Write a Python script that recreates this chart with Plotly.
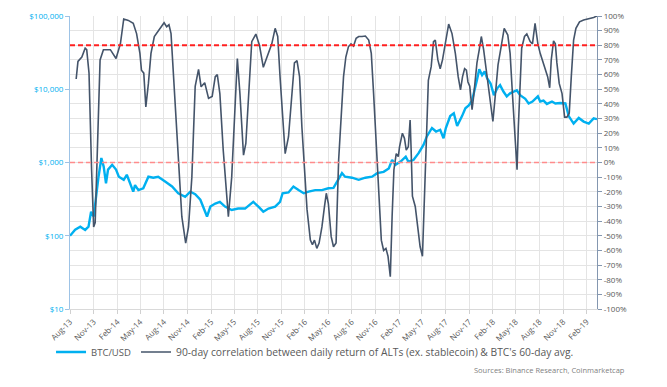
import plotly.graph_objects as go

# ---------------- data ----------------
btc_dates = ["2013-08-01","2013-08-21","2013-09-10","2013-09-29","2013-10-12","2013-10-22","2013-11-01","2013-11-10","2013-11-20","2013-12-01",
             "2013-12-10","2013-12-19","2013-12-27","2014-01-12","2014-01-27","2014-02-07","2014-02-26","2014-03-10","2014-03-22","2014-04-04",
             "2014-04-11","2014-04-24","2014-05-13","2014-06-02","2014-06-21","2014-07-10","2014-08-06","2014-09-02","2014-09-26","2014-10-23",
             "2014-11-12","2014-12-01","2014-12-21","2015-01-16","2015-01-29","2015-02-17","2015-03-07","2015-03-27","2015-04-22","2015-05-17",
             "2015-06-13","2015-07-15","2015-08-04","2015-08-23","2015-09-12","2015-10-08","2015-10-27","2015-11-06","2015-11-29","2015-12-18",
             "2016-01-07","2016-01-27","2016-02-15","2016-03-12","2016-04-07","2016-05-02","2016-05-22","2016-06-10","2016-06-24","2016-07-06",
             "2016-08-02","2016-08-28","2016-09-23","2016-10-19","2016-11-08","2016-12-03","2016-12-23","2017-01-05","2017-01-18","2017-02-07",
             "2017-02-27","2017-03-09","2017-03-29","2017-04-18","2017-05-07","2017-05-20","2017-06-09","2017-06-25","2017-07-11","2017-07-24",
             "2017-08-02","2017-08-19","2017-09-02","2017-09-15","2017-09-28","2017-10-04","2017-10-17","2017-10-30","2017-11-12","2017-11-23",
             "2017-12-01","2017-12-10","2017-12-21","2017-12-31","2018-01-10","2018-01-23","2018-02-05","2018-02-18","2018-03-01","2018-03-14",
             "2018-03-27","2018-04-09","2018-04-22","2018-05-05","2018-05-18","2018-06-07","2018-06-20","2018-07-05","2018-07-26","2018-08-04",
             "2018-08-17","2018-08-30","2018-09-19","2018-10-02","2018-10-21","2018-11-10","2018-11-23","2018-12-12","2019-01-01","2019-01-20",
             "2019-02-09","2019-02-28","2019-03-13"]
btc_usd = [100,121,133,120,133,213,183,340,640,1150,
           880,520,800,930,800,640,580,680,520,400,
           490,420,445,640,620,640,550,470,380,340,
           400,370,310,183,250,275,290,250,225,235,
           235,290,250,213,235,250,290,380,390,470,
           420,380,400,420,420,445,450,580,715,640,
           620,580,620,640,715,745,830,1080,930,1030,
           1200,1030,1080,1340,1740,2270,2960,2650,2800,2140,
           2960,4300,4700,3150,4060,4300,5500,6000,7000,9700,
           13400,18800,15600,17500,14000,12000,8300,10300,11400,9300,
           8000,8800,9300,9700,8300,7400,6400,6800,8000,6800,
           7000,6300,6800,6400,6500,6400,4300,3400,4060,3620,
           3400,4000,3900]

corr_dates = ["2013-08-25","2013-09-01","2013-09-16","2013-09-29","2013-10-05","2013-10-14","2013-10-24","2013-11-01","2013-11-07","2013-11-16",
              "2013-11-26","2013-12-09","2014-01-05","2014-01-27","2014-02-13","2014-02-26","2014-03-16","2014-04-04","2014-04-17","2014-04-30",
              "2014-05-06","2014-05-15","2014-05-23","2014-06-02","2014-06-12","2014-06-25","2014-07-16","2014-08-02","2014-08-12","2014-08-21",
              "2014-08-29","2014-09-14","2014-09-26","2014-10-10","2014-10-25","2014-11-05","2014-11-18","2014-12-01","2014-12-14","2014-12-24",
              "2015-01-07","2015-01-22","2015-02-05","2015-02-17","2015-02-25","2015-03-07","2015-03-20","2015-03-31","2015-04-09","2015-04-22",
              "2015-05-05","2015-05-14","2015-05-24","2015-06-07","2015-06-16","2015-06-26","2015-07-09","2015-07-25","2015-08-08","2015-08-23",
              "2015-09-10","2015-09-25","2015-10-08","2015-10-18","2015-10-27","2015-11-06","2015-11-16","2015-11-29","2015-12-12","2015-12-22",
              "2016-01-01","2016-01-11","2016-01-20","2016-01-31","2016-02-09","2016-02-22","2016-03-01","2016-03-09","2016-03-18","2016-03-27",
              "2016-04-07","2016-04-17","2016-04-24","2016-05-02","2016-05-13","2016-05-22","2016-06-01","2016-06-11","2016-06-20","2016-06-30",
              "2016-07-09","2016-07-19","2016-07-29","2016-08-08","2016-08-18","2016-08-28","2016-09-10","2016-09-23","2016-10-06","2016-10-16",
              "2016-10-25","2016-11-04","2016-11-14","2016-11-24","2016-12-03","2016-12-12","2016-12-20","2016-12-29","2017-01-05","2017-01-12",
              "2017-01-21","2017-01-29","2017-02-03","2017-02-14","2017-02-22","2017-03-01","2017-03-09","2017-03-16","2017-03-20","2017-03-25",
              "2017-04-05","2017-04-14","2017-04-24","2017-05-03","2017-05-11","2017-05-20","2017-05-26","2017-06-06","2017-06-15","2017-06-22",
              "2017-07-02","2017-07-11","2017-07-20","2017-07-30","2017-08-13","2017-08-26","2017-09-08","2017-09-19","2017-09-28","2017-10-06",
              "2017-10-14","2017-10-21","2017-10-27","2017-11-03","2017-11-12","2017-11-18","2017-12-01","2017-12-10","2017-12-18","2017-12-27",
              "2018-01-10","2018-01-23","2018-02-01","2018-02-11","2018-02-21","2018-03-05","2018-03-17","2018-03-31","2018-04-09","2018-04-18",
              "2018-04-26","2018-05-02","2018-05-06","2018-05-11","2018-05-18","2018-05-24","2018-06-04","2018-06-13","2018-06-26","2018-07-05",
              "2018-07-15","2018-07-26","2018-08-04","2018-08-13","2018-08-24","2018-09-02","2018-09-10","2018-09-16","2018-09-25","2018-10-02",
              "2018-10-08","2018-10-17","2018-10-28","2018-11-07","2018-11-16","2018-11-25","2018-12-03","2018-12-12","2018-12-21","2019-01-04",
              "2019-01-20","2019-02-09","2019-02-28","2019-03-13"]
corr_pct = [57,69,72,78,77,61,-5,-44,-41,8.5,
            70,77,77,71,81,98,97,95,88,74.5,
            63,61,38,54,74.5,86,91.5,95.4,92.7,94,
            88,40,8.5,-37,-55,-44,-10,52,63.6,51.7,
            54.5,43.8,45,58.6,60,47,8.5,-19,-37,-10,
            36,71,47,5,13,47,82.5,87.7,80,65,
            74.5,81,91.6,86,58.6,29,6,17.6,47,68,
            69.5,58.6,24.4,-5,-32,-53,-56,-53,-58.6,-55,
            -44,-30,-21,-28,-50.6,-57.5,-55,1.7,31,58.6,
            72,79,81,79.5,84.8,86,86,86.3,83.6,74.5,
            47,13,-28,-53,-60,-58.6,-64,-78,-37,-5,
            6,4,10.8,20,16.5,8.5,10.8,29,8.5,-23,
            -30,-41.5,-57.5,-64,-28,24.4,56,65.4,82.5,83.6,
            70,64,70,81,94.5,88,74.5,58.6,49.5,58.6,
            64,63,55,52,36,45,68,77,86,77,
            58.6,38,28,47,66.6,79,91.6,87,74.5,47,
            24.4,1.7,-5,24.4,58.6,78,86,87.7,82.5,81,
            95,81,74.5,70,63,58.6,51,70,83,81,
            68,54,47,31,31,33.6,58.6,83.6,91.6,96,
            97.3,98,99,100]

assert len(btc_dates) == len(btc_usd), (len(btc_dates), len(btc_usd))
assert len(corr_dates) == len(corr_pct), (len(corr_dates), len(corr_pct))

reference_levels = [80, 0]          # % levels of the dashed red lines
price_ticks = [10, 100, 1000, 10000, 100000]
pct_ticks = list(range(-100, 101, 10))

BTC_NAME = "BTC/USD"
CORR_NAME = "90-day correlation between daily return of ALTs (ex. stablecoin) & BTC's 60-day avg."
SOURCE = "Sources: Binance Research, Coinmarketcap"

# ---------------- figure ----------------
FONT = "Open Sans"
fig = go.Figure()

fig.add_trace(go.Scatter(x=btc_dates, y=btc_usd, name=BTC_NAME, mode="lines",
                         line=dict(color="#00B0F0", width=2.4), yaxis="y"))
fig.add_trace(go.Scatter(x=corr_dates, y=corr_pct,
                         name='<span style="font-size:10.3px">' + CORR_NAME + '</span>',
                         mode="lines", line=dict(color="#44546A", width=1.6), yaxis="y2"))

for lvl, col, w in zip(reference_levels, ["#FF2020", "#FF8C8C"], [2, 1.6]):
    fig.add_shape(type="line", xref="paper", x0=0, x1=1, yref="y2", y0=lvl, y1=lvl,
                  line=dict(color=col, width=w, dash="5px,3px"), layer="above")

fig.update_layout(
    width=667, height=387,
    margin=dict(l=70, r=70, t=16, b=78, autoexpand=False),
    paper_bgcolor="white", plot_bgcolor="white",
    font=dict(family=FONT, size=9, color="#595959"),
    showlegend=True,
    legend=dict(orientation="h", x=-0.036, y=-0.147, xanchor="left", yanchor="middle",
                font=dict(size=9.5, color="#595959"), itemwidth=30, tracegroupgap=0,
                bgcolor="rgba(0,0,0,0)"),
    xaxis=dict(type="date", range=["2013-08-01", "2019-03-13"],
               tick0="2013-08-01", dtick="M3", tickformat="%b-%y", tickangle=-45,
               showgrid=True, gridcolor="#E4E4E4", gridwidth=1,
               ticks="outside", ticklen=4, tickcolor="#D0D0D0",
               showline=True, linecolor="#D9D9D9", linewidth=1, automargin=False,
               tickfont=dict(size=8, color="#595959"), zeroline=False),
    yaxis=dict(type="log", range=[1, 5], tickvals=price_ticks,
               ticktext=["$" + format(v, ",") for v in price_ticks],
               showgrid=False, zeroline=False, automargin=False,
               showline=True, linecolor="#9DC3E6", linewidth=1,
               ticks="outside", ticklen=4, tickcolor="#9DC3E6",
               tickfont=dict(size=8, color="#00B0F0")),
    yaxis2=dict(overlaying="y", side="right", range=[-100, 100],
                tickvals=pct_ticks, ticktext=[f"{v}%" for v in pct_ticks],
                showgrid=True, gridcolor="#E4E4E4", gridwidth=1, zeroline=False,
                showline=True, linecolor="#8497B0", linewidth=1.2, automargin=False,
                ticks="outside", ticklen=4, tickcolor="#8497B0",
                tickfont=dict(size=8, color="#595959")),
)

fig.add_annotation(text=SOURCE, xref="paper", yref="paper", x=1.056, y=-0.208,
                   xanchor="right", yanchor="middle", showarrow=False,
                   font=dict(size=7.5, color="#7F7F7F", family=FONT))

fig.write_html("out.html", config={"displayModeBar": False},
               post_script="document.body.style.margin='0px';")
